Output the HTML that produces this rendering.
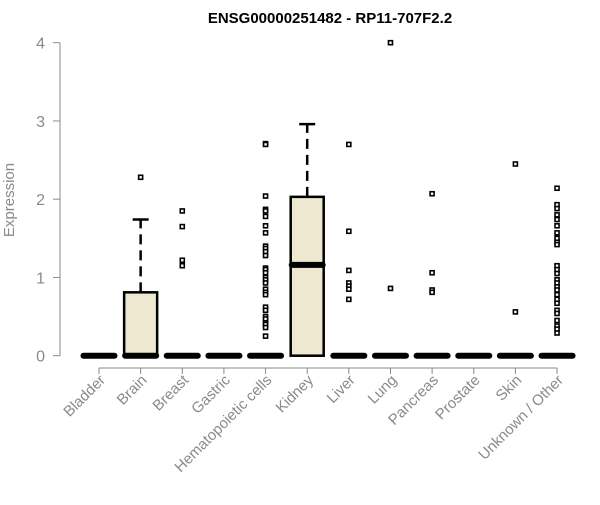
<!DOCTYPE html>
<html><head><meta charset="utf-8"><style>
body{margin:0;background:#fff}
svg{font-family:"Liberation Sans",Arial,sans-serif}
</style></head><body>
<svg id="c" width="600" height="500" viewBox="0 0 600 500">
<text x="330" y="23" text-anchor="middle" font-weight="bold" font-size="15">ENSG00000251482 - RP11-707F2.2</text>
<text transform="translate(14,200) rotate(-90)" text-anchor="middle" font-size="15" fill="#8a8a8a">Expression</text>
<g id="plot"></g>
</svg>
<script>
const categories=["Bladder","Brain","Breast","Gastric","Hematopoietic cells","Kidney","Liver","Lung","Pancreas","Prostate","Skin","Unknown / Other"];
const q1=[0,0,0,0,0,0,0,0,0,0,0,0];
const medians=[0,0,0,0,0,1.16,0,0,0,0,0,0];
const q3=[0,0.81,0,0,0,2.03,0,0,0,0,0,0];
const whiskerHigh=[0,1.74,0,0,0,2.96,0,0,0,0,0,0];
const outliers=[[],[2.28],[1.85,1.65,1.22,1.15],[],
[2.71,2.70,2.04,1.87,1.85,1.78,1.66,1.57,1.40,1.37,1.33,1.28,1.12,1.10,1.06,1.00,0.97,0.93,0.85,0.81,0.78,0.62,0.58,0.50,0.47,0.42,0.40,0.36,0.25],
[],[2.70,1.59,1.09,0.93,0.89,0.85,0.72],[4.0,0.86],[2.07,1.06,0.84,0.81],[],[2.45,0.56],
[2.14,1.93,1.88,1.80,1.74,1.66,1.57,1.50,1.45,1.42,1.15,1.10,1.05,0.97,0.93,0.88,0.84,0.78,0.72,0.67,0.58,0.54,0.45,0.38,0.34,0.29]];
const yTicks=[0,1,2,3,4];
const NS="http://www.w3.org/2000/svg";
const g=document.getElementById("plot");
const y=v=>355.7-v*78.25;
const x=i=>99+i*41.64;
const bw=33;
function mk(t,a){const e=document.createElementNS(NS,t);for(const k in a)e.setAttribute(k,a[k]);g.appendChild(e);return e;}
let e=mk("line",{x1:60,x2:60,y1:y(0),y2:y(4),stroke:"#8a8a8a"});


yTicks.forEach(t=>{
 let l=mk("line",{x1:53,x2:60,y1:y(t),y2:y(t),stroke:"#8a8a8a"});
 
 
 let tx=mk("text",{x:45,y:y(t)+6,"text-anchor":"end","font-size":"16",fill:"#8a8a8a"});
 tx.textContent=t;
 
 
});
e=mk("line",{x1:x(0),x2:x(11),y1:368,y2:368,stroke:"#8a8a8a"});


categories.forEach((c,i)=>{
 const cx=x(i);
 let t=mk("line",{x1:cx,x2:cx,y1:368,y2:374,stroke:"#8a8a8a"});
 
 
 let tx=mk("text",{transform:`translate(${cx+7},${381}) rotate(-45)`,"text-anchor":"end","font-size":"15",fill:"#8a8a8a"});
 tx.textContent=c;
 
 
 if(whiskerHigh[i]>q3[i]){
  let w=mk("line",{x1:cx,x2:cx,y1:y(q3[i]),y2:y(whiskerHigh[i]),stroke:"#000","stroke-width":2.5,"stroke-dasharray":"10,6"});
  
  
  let cap=mk("line",{x1:cx-8,x2:cx+8,y1:y(whiskerHigh[i]),y2:y(whiskerHigh[i]),stroke:"#000","stroke-width":2.5});
  
  
 }
 if(q3[i]>q1[i]){
  let b=mk("rect",{x:cx-bw/2,y:y(q3[i]),width:bw,height:y(q1[i])-y(q3[i]),fill:"#ede8cf",stroke:"#000","stroke-width":2.5});
  
  
 }
 let m=mk("line",{x1:cx-bw/2+1,x2:cx+bw/2-1,y1:y(medians[i]),y2:y(medians[i]),stroke:"#000","stroke-width":6,"stroke-linecap":"round"});
 
 
 outliers[i].forEach(v=>{
  let p=mk("rect",{x:cx-2,y:y(v)-2,width:4,height:4,fill:"#fff",stroke:"#000","stroke-width":1.6});
  
  
 });
});
</script>
</body></html>
